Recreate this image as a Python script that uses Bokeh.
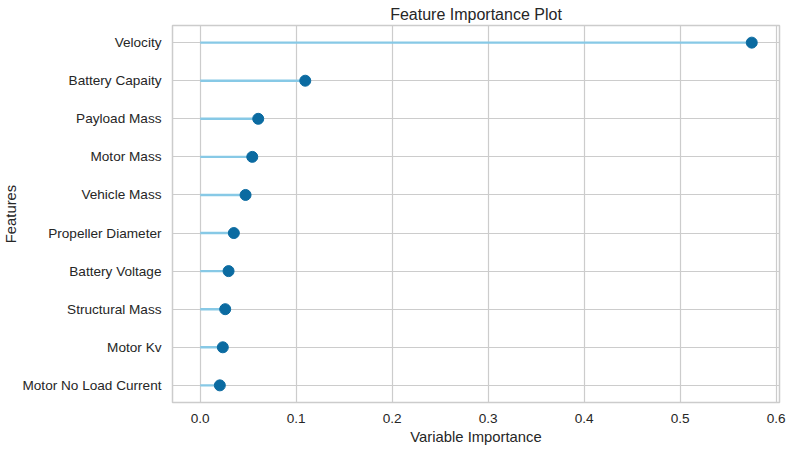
from bokeh.plotting import figure
from bokeh.models import ColumnDataSource, Range1d, FixedTicker, NumeralTickFormatter
from bokeh.embed import file_html
from bokeh.resources import INLINE

features = ["Velocity", "Battery Capaity", "Payload Mass", "Motor Mass", "Vehicle Mass",
            "Propeller Diameter", "Battery Voltage", "Structural Mass", "Motor Kv",
            "Motor No Load Current"]
importance = [0.5745, 0.1094, 0.0604, 0.0542, 0.0472, 0.0350, 0.0295, 0.0260, 0.0235, 0.0204]
x_ticks = [0.0, 0.1, 0.2, 0.3, 0.4, 0.5, 0.6]

n = len(features)
ypos = [n - 1 - i for i in range(n)]
src = ColumnDataSource(dict(y=ypos, x=importance, x0=[0.0] * n, name=features))

FONT = "Liberation Sans"
TXT = "#262626"
GRID = "#cccccc"

p = figure(frame_width=607, frame_height=377, output_backend="svg", toolbar_location=None,
           x_range=Range1d(-0.0289, 0.6034), y_range=Range1d(-0.45, n - 1 + 0.45),
           title="Feature Importance Plot",
           min_border_left=165, min_border_right=7, min_border_top=23, min_border_bottom=30)

p.title.align = "center"
p.title.text_font = FONT
p.title.text_font_size = "16px"
p.title.text_font_style = "normal"
p.title.text_color = TXT
p.title.offset = 0
p.title.standoff = 6

p.segment(x0="x0", y0="y", x1="x", y1="y", source=src, line_color="#87c9e6", line_width=2.4)
p.scatter(x="x", y="y", source=src, size=11, fill_color="#0b6ba1", line_color="#0b6ba1")

p.xaxis.ticker = FixedTicker(ticks=x_ticks)
p.xaxis.formatter = NumeralTickFormatter(format="0.0")
p.yaxis.ticker = FixedTicker(ticks=ypos)
p.yaxis.major_label_overrides = {y: f for y, f in zip(ypos, features)}

p.xaxis.axis_label = "Variable Importance"
p.yaxis.axis_label = "Features"

for ax in (p.xaxis[0], p.yaxis[0]):
    ax.axis_line_color = None
    ax.major_tick_line_color = None
    ax.minor_tick_line_color = None
    ax.major_label_text_font = FONT
    ax.major_label_text_font_size = "13.6px"
    ax.major_label_text_color = TXT
    ax.axis_label_text_font = FONT
    ax.axis_label_text_font_size = "14.8px"
    ax.axis_label_text_font_style = "normal"
    ax.axis_label_text_color = TXT

p.yaxis.major_label_standoff = 5
p.yaxis.axis_label_standoff = 0
p.xaxis.major_label_standoff = 5
p.xaxis.axis_label_standoff = 3

p.grid.grid_line_color = GRID
p.grid.grid_line_width = 1.2
p.outline_line_color = GRID
p.outline_line_width = 1.5

open("out.html", "w").write(file_html(p, INLINE))
